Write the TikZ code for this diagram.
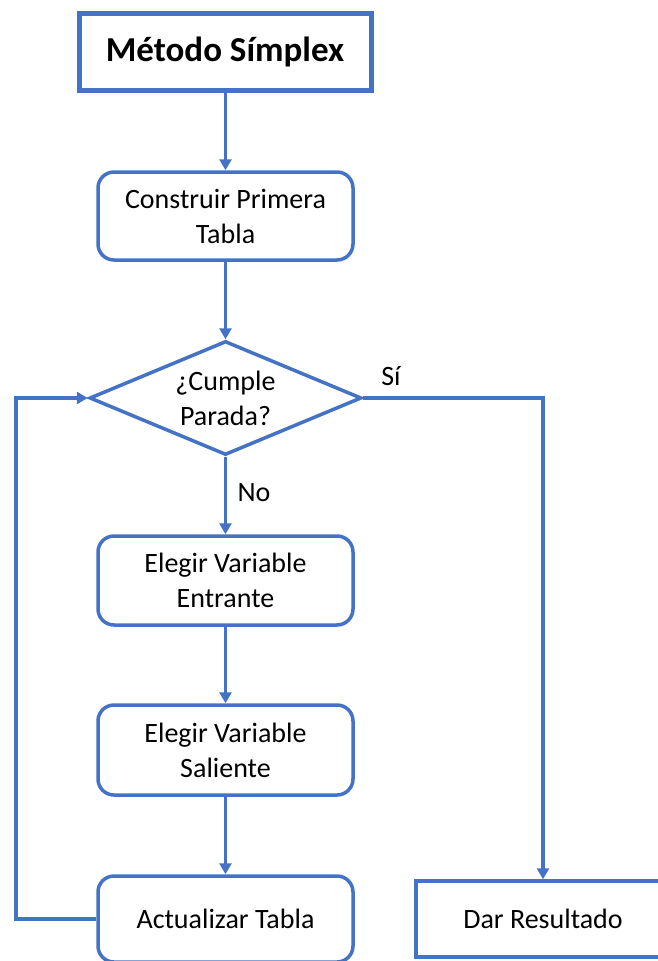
\documentclass[tikz,border=0pt]{standalone}
\usepackage{fontspec}
\setmainfont{Carlito}
\usetikzlibrary{arrows.meta,shapes.geometric}
\definecolor{flowblue}{HTML}{4472C4}
\begin{document}
\begin{tikzpicture}[x=1pt,y=-1pt,
  stepbox/.style={draw=flowblue, line width=3.5pt, rounded corners=16pt, fill=white,
    minimum width=255pt, inner sep=0pt, align=center,
    font=\fontsize{28}{35}\selectfont},
  plainbox/.style={draw=flowblue, line width=3.5pt, fill=white, inner sep=0pt,
    align=center, font=\fontsize{28}{35}\selectfont},
  titlebox/.style={draw=flowblue, line width=5pt, fill=white, inner sep=0pt,
    minimum width=292pt, minimum height=77pt,
    font=\fontsize{35}{40}\selectfont\bfseries},
  decision/.style={diamond, draw=flowblue, line width=3.5pt, fill=white, inner sep=0pt,
    aspect=2.386, minimum width=272pt, minimum height=114pt, align=center,
    font=\fontsize{28}{35}\selectfont},
  flow/.style={draw=flowblue, line width=3.2pt,
    -{Triangle[length=11pt,width=12pt]}},
  tag/.style={font=\fontsize{28}{35}\selectfont, inner sep=0pt}
]
\useasboundingbox (0,0) rectangle (657,961);

% nodes
\node[titlebox] (title) at (225,51.5) {Método Símplex};
\node[stepbox, minimum height=88pt] (build) at (225.5,216) {Construir Primera\\Tabla};
\node[decision] (check) at (225.5,398) {¿Cumple\\Parada?};
\node[stepbox, minimum height=89pt] (enter) at (225.5,580.5) {Elegir Variable\\Entrante};
\node[stepbox, minimum height=90pt] (leave) at (225.5,750) {Elegir Variable\\Saliente};
\node[stepbox, minimum height=86pt] (update) at (225.5,919) {Actualizar Tabla};
\node[plainbox, minimum width=254pt, minimum height=76pt] (result) at (543,919) {Dar Resultado};

% routing points
\coordinate (loopbot) at (16,919);
\coordinate (looptop) at (16,398);
\coordinate (yesturn) at (543,398);

% main flow
\draw[flow] (title.south -| build.north) -- (build.north);
\draw[flow] (build.south) -- (check.north);
\draw[flow] (check.south) -- (enter.north);
\draw[flow] (enter.south) -- (leave.north);
\draw[flow] (leave.south) -- (update.north);

% yes branch
\draw[flow] (check.east) -- (yesturn) -- (result.north);

% loop back to the test
\draw[flow] (update.west) -- (loopbot) -- (looptop) -- (check.west);

% branch labels
\node[tag] (yes) at (391,376) {Sí};
\node[tag] (no) at (254,493) {No};
\end{tikzpicture}
\end{document}
